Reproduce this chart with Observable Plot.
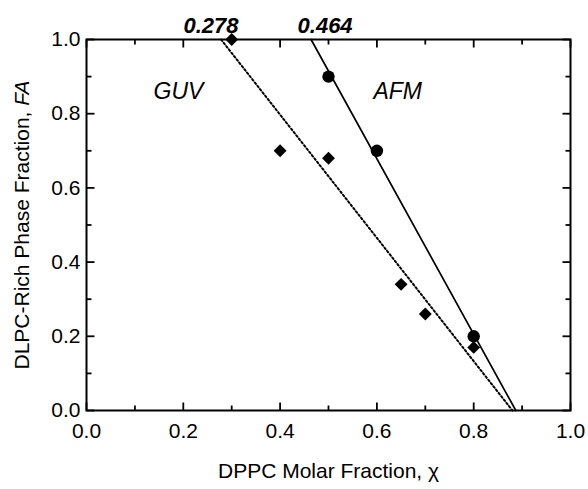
<!DOCTYPE html>
<html>
<head>
<meta charset="utf-8">
<script src="https://cdn.jsdelivr.net/npm/d3@7"></script>
<script src="https://cdn.jsdelivr.net/npm/@observablehq/plot@0.6"></script>
<style>
  html, body { margin: 0; padding: 0; background: #fff; overflow: hidden; }
</style>
</head>
<body>
<div id="chart"></div>
<script>
// GUV data (diamonds)
const guvX = [0.3, 0.4, 0.5, 0.65, 0.7, 0.8];
const guvY = [1.0, 0.7, 0.68, 0.34, 0.26, 0.17];
// AFM data (circles)
const afmX = [0.5, 0.6, 0.8];
const afmY = [0.9, 0.7, 0.2];
// Fit lines
const guvLineX = [0.278, 0.88];
const guvLineY = [1.0, 0.0];
const afmLineX = [0.464, 0.887];
const afmLineY = [1.0, 0.0];
// Intercept labels
const interceptLabels = ["0.278", "0.464"];
const interceptX = [0.278, 0.464];
// Ticks
const majorTicks = [0, 0.2, 0.4, 0.6, 0.8, 1.0];
const minorTicks = [0.1, 0.3, 0.5, 0.7, 0.9];
const xLabel = "DPPC Molar Fraction, χ";
const yLabel = "DLPC-Rich Phase Fraction, FA";

const guv = guvX.map((x, i) => ({x, y: guvY[i]}));
const afm = afmX.map((x, i) => ({x, y: afmY[i]}));
const guvLine = guvLineX.map((x, i) => ({x, y: guvLineY[i]}));
const afmLine = afmLineX.map((x, i) => ({x, y: afmLineY[i]}));

const W = 588, H = 489, ML = 86, MR = 18, MT = 39, MB = 79;
const PW = W - ML - MR, PH = H - MT - MB;
const FF = "'Liberation Sans', Arial, sans-serif";
const fmt = d3.format(".1f");
const ts = {stroke: "#000000", strokeWidth: 1.8, strokeOpacity: 1};
// tick lengths in pixels converted to domain units (domain is [0,1])
const majY = 8 / PH, minY = 5 / PH, majX = 8 / PW, minX = 5 / PW;

const chart = Plot.plot({
  width: W,
  height: H,
  marginLeft: ML,
  marginRight: MR,
  marginTop: MT,
  marginBottom: MB,
  style: {fontFamily: FF, background: "white", color: "black"},
  x: {domain: [0, 1]},
  y: {domain: [0, 1]},
  marks: [
    // tick labels
    Plot.axisX(majorTicks, {anchor: "bottom", tickSize: 0, tickPadding: 13, tickFormat: fmt,
      fontSize: 21, fontFamily: FF, fill: "black", label: null}),
    Plot.axisY(majorTicks, {anchor: "left", tickSize: 0, tickPadding: 6, tickFormat: fmt,
      fontSize: 21, fontFamily: FF, fill: "black", label: null}),
    // axis titles
    Plot.text([xLabel], {frameAnchor: "bottom", dy: 67, text: d => d, fontSize: 21, fontFamily: FF, fill: "black"}),
    Plot.text([yLabel], {frameAnchor: "left", dx: -64, rotate: -90, textAnchor: "middle",
      text: d => d, fontSize: 21, fontFamily: FF, fill: "black"}),
    // fit lines
    Plot.line(guvLine, {x: "x", y: "y", stroke: "black", strokeWidth: 2, strokeDasharray: "1.8,2.4"}),
    Plot.line(afmLine, {x: "x", y: "y", stroke: "black", strokeWidth: 1.7}),
    // data points
    Plot.dot(guv, {x: "x", y: "y", symbol: "diamond2", r: 5.8, fill: "black", stroke: "none"}),
    Plot.dot(afm, {x: "x", y: "y", symbol: "circle", r: 6.2, fill: "black", stroke: "none"}),
    // annotations
    Plot.text([interceptLabels[0]], {x: interceptX[0], y: 1, text: d => d, dx: -10, dy: -14,
      fontSize: 22, fontFamily: FF, fontWeight: "bold", fontStyle: "italic", fill: "black"}),
    Plot.text([interceptLabels[1]], {x: interceptX[1], y: 1, text: d => d, dx: 14, dy: -14,
      fontSize: 22, fontFamily: FF, fontWeight: "bold", fontStyle: "italic", fill: "black"}),
    Plot.text(["GUV"], {x: 0.19, y: 0.86, text: d => d, fontSize: 23, fontFamily: FF, fontStyle: "italic", fill: "black"}),
    Plot.text(["AFM"], {x: 0.643, y: 0.86, text: d => d, fontSize: 23, fontFamily: FF, fontStyle: "italic", fill: "black"}),
    Plot.frame({stroke: "black", strokeWidth: 2}),
    // inward ticks on all four sides (drawn as links)
    Plot.link(majorTicks, {x1: d => d, x2: d => d, y1: 0, y2: majY, ...ts}),
    Plot.link(minorTicks, {x1: d => d, x2: d => d, y1: 0, y2: minY, ...ts}),
    Plot.link(majorTicks, {x1: d => d, x2: d => d, y1: 1 - majY, y2: 1, ...ts}),
    Plot.link(minorTicks, {x1: d => d, x2: d => d, y1: 1 - minY, y2: 1, ...ts}),
    Plot.link(majorTicks, {y1: d => d, y2: d => d, x1: 0, x2: majX, ...ts}),
    Plot.link(minorTicks, {y1: d => d, y2: d => d, x1: 0, x2: minX, ...ts}),
    Plot.link(majorTicks, {y1: d => d, y2: d => d, x1: 1 - majX, x2: 1, ...ts}),
    Plot.link(minorTicks, {y1: d => d, y2: d => d, x1: 1 - minX, x2: 1, ...ts})
  ]
});

// italicize "FA" in the y-axis title
d3.select(chart).selectAll("text").each(function() {
  if (this.textContent === yLabel) {
    const sel = d3.select(this);
    sel.text(null);
    sel.append("tspan").text("DLPC-Rich Phase Fraction, ");
    sel.append("tspan").attr("font-style", "italic").text("FA");
  }
});
document.getElementById("chart").appendChild(chart);
</script>
</body>
</html>
